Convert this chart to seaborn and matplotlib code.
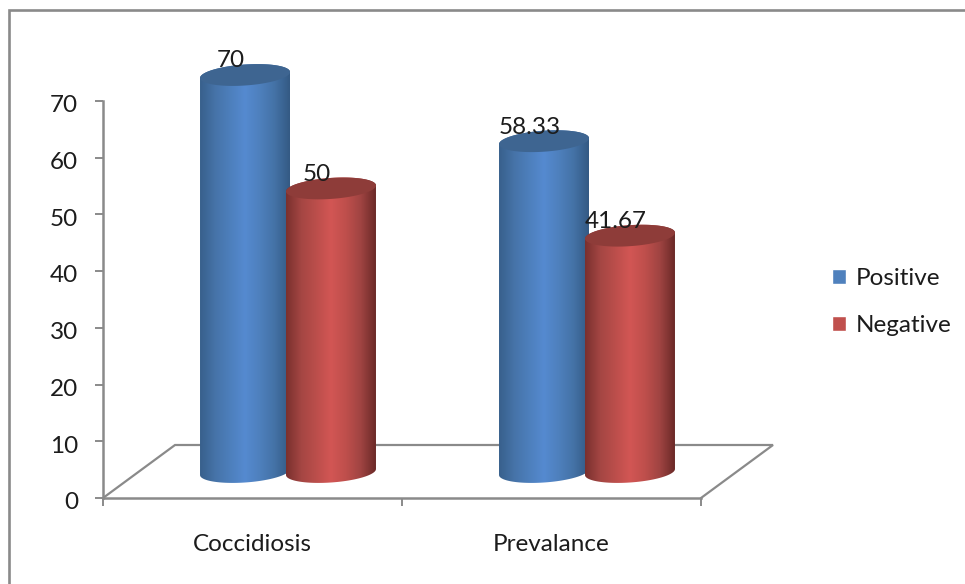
import numpy as np
import pandas as pd
import matplotlib
matplotlib.use('Agg')
import matplotlib.pyplot as plt
import seaborn as sns
from matplotlib.colors import LinearSegmentedColormap
from matplotlib.lines import Line2D
from matplotlib.patches import Polygon
from matplotlib.transforms import ScaledTranslation

categories = ['Coccidiosis', 'Prevalance']
positive   = [70, 58.33]
negative   = [50, 41.67]
y_ticks    = [0, 10, 20, 30, 40, 50, 60, 70]

W, H = 965, 584
GREY = '#8a8a8a'
TEXT = '#1c1c1c'
FONT = 17.5
BAR_COLORS = {'Positive': '#4f81bd', 'Negative': '#c0504d'}
SIDE_COLORS = {'Positive': ['#38608c', '#4673a8', '#4d7fbc', '#558ad0', '#4e80bd', '#4472a6', '#345a84'],
               'Negative': ['#7a302e', '#a44643', '#bb4e4b', '#d25654', '#bf4f4c', '#a04442', '#6c2a28']}
TOP_COLORS = {'Positive': '#3e6591', 'Negative': '#8e3c39'}

sns.set_theme(style='white')
plt.rcParams['font.family'] = ['Lato', 'DejaVu Sans']

df = pd.DataFrame({'category': categories * 2,
                   'value': positive + negative,
                   'series': ['Positive'] * 2 + ['Negative'] * 2})

fig = plt.figure(figsize=(W / 100, H / 100), dpi=100)

# axes covers 103..701 px, ylim goes past 70 so the cylinders are not clipped
px_per_unit = 397 / 70
y_max = 80
ax = fig.add_axes([103 / W, (H - 498) / H, 598 / W, y_max * px_per_unit / H])
ax.patch.set_alpha(0)

sns.barplot(data=df, x='category', y='value', hue='series', order=categories,
            hue_order=['Positive', 'Negative'], palette=BAR_COLORS,
            width=0.575, gap=0, saturation=1, legend=False, ax=ax)
ax.set_xlim(-0.5, 1.5)
ax.set_ylim(0, y_max)
ax.set_xlabel('')
ax.set_ylabel('')

px_x = 299
depth_x, depth_y = 35.5 / px_x, 26 / px_per_unit
a = 45 / px_x
b = 10.5 / px_per_unit
tilt = 3 / px_per_unit


def ellipse(cx, cy, t):
    return cx + a * np.cos(t), cy + b * np.sin(t) + tilt * np.cos(t)


# floor of the 3d box
fx, fy = 72 / px_x, 53 / px_per_unit
ax.plot([-0.5, -0.5 + fx, 1.5 + fx, 1.5], [0, fy, fy, 0], color=GREY, lw=1.6,
        clip_on=False, zorder=1, solid_joinstyle='miter')

# turn every bar into a shaded cylinder, pushed back to the middle of the box
for name, container in zip(['Positive', 'Negative'], ax.containers):
    cmap = LinearSegmentedColormap.from_list(name, SIDE_COLORS[name])
    for i, bar in enumerate(container):
        cx = bar.get_x() + bar.get_width() / 2 + depth_x
        top = bar.get_height() + depth_y
        bar.set_x(bar.get_x() + depth_x)
        bar.set_y(depth_y)
        bar.set_zorder(2)

        order = 3 + 0.1 * (i + (name == 'Negative') * 3)
        t_low = np.linspace(np.pi, 2 * np.pi, 60)
        t_up = np.linspace(0, np.pi, 60)
        xl, yl = ellipse(cx, depth_y, t_low)
        xu, yu = ellipse(cx, top, t_up)
        outline = Polygon(np.c_[np.r_[xl, xu], np.r_[yl, yu]], closed=True,
                          transform=ax.transData, fc='none', ec='none')
        ax.add_patch(outline)
        shade = np.linspace(0, 1, 200).reshape(1, -1)
        im = ax.imshow(shade, cmap=cmap, aspect='auto', interpolation='bilinear',
                       extent=[cx - a, cx + a, depth_y - 3, top + 3], zorder=order)
        im.set_clip_path(outline)

        t = np.linspace(0, 2 * np.pi, 120)
        xt, yt = ellipse(cx, top, t)
        ax.fill(xt, yt, color=TOP_COLORS[name], lw=0, zorder=order + 0.01)

        ax.annotate(f'{bar.get_height():g}', (cx, top), xytext=(-10.5, 10.2),
                    textcoords='offset points', ha='center', va='center',
                    fontsize=FONT, color=TEXT, zorder=10)

ax.set_xlim(-0.5, 1.5)
ax.set_ylim(0, y_max)

# axes lines
sns.despine(ax=ax, top=True, right=True)
ax.spines['left'].set_bounds(0, 70)
ax.spines['left'].set_color(GREY)
ax.spines['bottom'].set_color(GREY)
ax.spines['left'].set_linewidth(1.8)
ax.spines['bottom'].set_linewidth(1.8)
ax.set_yticks(y_ticks)
ax.set_xticks([-0.5, 0.5, 1.5])
ax.set_xticklabels([])
ax.set_xticks([0, 1], labels=categories, minor=True)
ax.tick_params(axis='both', which='major', length=6, width=1.4, color=GREY,
               bottom=True, left=True)
ax.tick_params(axis='x', which='minor', length=0, pad=26, labelsize=FONT, labelcolor=TEXT)
ax.tick_params(axis='y', labelsize=FONT, labelcolor=TEXT, pad=12)

# y labels sit a little lower than their ticks
nudge = ScaledTranslation(0, -2 / 72, fig.dpi_scale_trans)
for label in ax.get_yticklabels():
    label.set_transform(label.get_transform() + nudge)

# legend from the bars themselves
handles = [c[0] for c in ax.containers]
ax.legend(handles, ['Positive', 'Negative'], loc='center left',
          bbox_to_anchor=(810 / W, 1 - 302 / H), bbox_transform=fig.transFigure,
          frameon=False, fontsize=FONT, labelcolor=TEXT, handlelength=0.58,
          handleheight=0.58, handletextpad=0.42, labelspacing=1.08)

# picture border: only the top and left sides show
fig.add_artist(Line2D([8.5 / W, 8.5 / W, 1], [0, 1 - 10 / H, 1 - 10 / H],
                      transform=fig.transFigure, color=GREY, lw=1.9,
                      solid_joinstyle='miter'))

plt.savefig('out.png', dpi=100)
